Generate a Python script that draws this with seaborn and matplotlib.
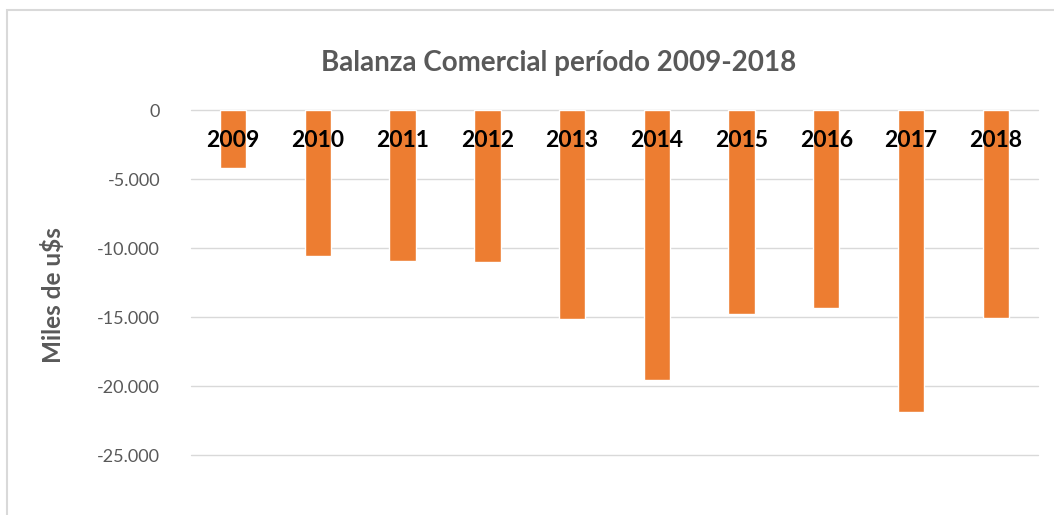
import matplotlib
matplotlib.use("Agg")
import matplotlib.pyplot as plt
import matplotlib.ticker as mticker
from matplotlib.patches import Rectangle
import pandas as pd
import seaborn as sns

# Data (miles de u$s)
years = ["2009", "2010", "2011", "2012", "2013", "2014", "2015", "2016", "2017", "2018"]
balance = [-4200, -10580, -10940, -11000, -15150, -19560, -14780, -14350, -21880, -15070]
y_ticks = [0, -5000, -10000, -15000, -20000, -25000]

df = pd.DataFrame({"year": years, "balance": balance})

sns.set_style("white")
plt.rcParams["font.family"] = ["Lato", "DejaVu Sans"]

fig = plt.figure(figsize=(10.54, 5.15), dpi=100)
ax = fig.add_axes([0.181, 0.1165, 0.804, 0.6699])

sns.barplot(data=df, x="year", y="balance", color="#ED7D31", saturation=1,
            width=0.31, ax=ax)

ax.set_ylim(-25000, 0)
ax.set_yticks(y_ticks)
ax.yaxis.set_major_formatter(mticker.FuncFormatter(lambda v, p: f"{v:,.0f}".replace(",", ".")))
ax.grid(axis="y", color="#D9D9D9", linewidth=1, clip_on=False)
ax.set_axisbelow(True)
for s in ax.spines.values():
    s.set_visible(False)
ax.tick_params(axis="y", length=0, labelsize=13, labelcolor="#595959", pad=22)
ax.tick_params(axis="x", length=0)
ax.set_xticklabels([])
ax.set_xlabel("")
ax.set_ylabel("Miles de u$s", fontsize=17.5, fontweight="bold", color="#595959")
ax.yaxis.set_label_coords(-0.148, 0.464)

# year labels near the zero line
for i, y in enumerate(years):
    ax.text(i, -2200, y, ha="center", va="center", fontsize=16.5,
            fontweight="bold", color="black")

fig.text(0.53, 0.877, "Balanza Comercial período 2009-2018", ha="center", va="center",
         fontsize=20, fontweight="bold", color="#595959")

# chart frame
fig.patches.append(Rectangle((0.0066, -0.1), 1.2, 1.081, transform=fig.transFigure,
                             fill=False, edgecolor="#D9D9D9", linewidth=1.5))

fig.savefig("out.png", dpi=100)
